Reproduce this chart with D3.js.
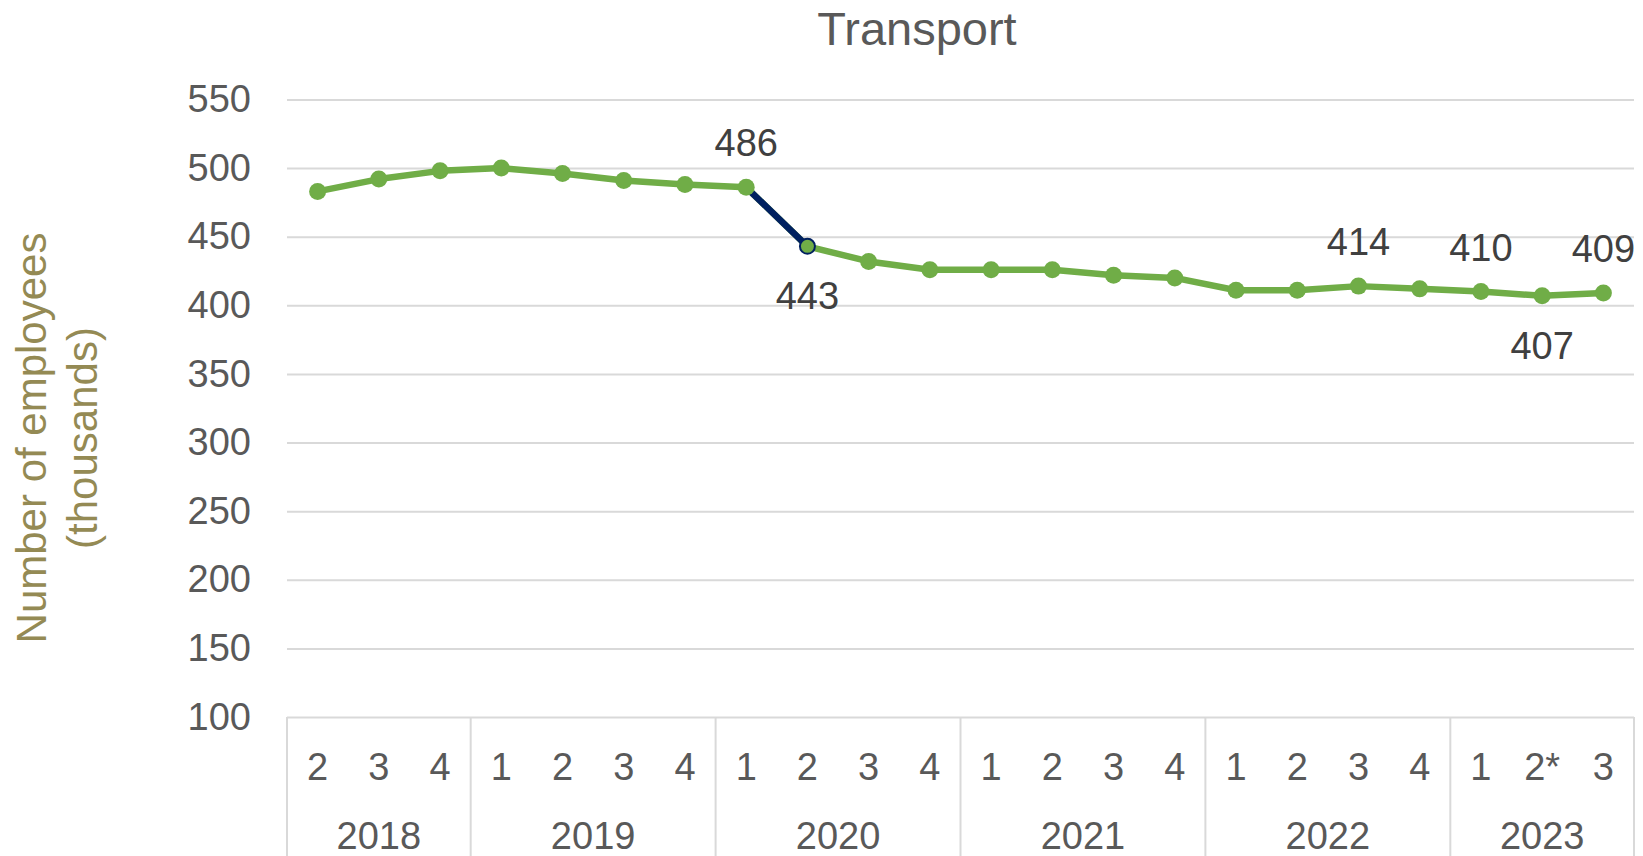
<html>
<head>
<meta charset="utf-8">
<title>Transport</title>
<script src="https://cdn.jsdelivr.net/npm/d3@7/dist/d3.min.js"></script>
<style>
  body { margin: 0; background: #fff; }
  text { font-family: "Liberation Sans", Arial, sans-serif; }
</style>
</head>
<body>
<script>
// data
var years    = ["2018", "2019", "2020", "2021", "2022", "2023"];
var quarters = [["2","3","4"], ["1","2","3","4"], ["1","2","3","4"], ["1","2","3","4"], ["1","2","3","4"], ["1","2*","3"]];
var employees = [483, 492, 498, 500, 496, 491, 488, 486, 443, 432, 426, 426, 426, 422, 420, 411, 411, 414, 412, 410, 407, 409];
var labelled   = ["2020 1", "2020 2", "2022 3", "2023 1", "2023 2*", "2023 3"];
var labelSide  = ["above", "below", "above", "above", "below", "above"];
var highlight  = ["2020 1", "2020 2"]; // segment drawn in navy
var yTicks = [100, 150, 200, 250, 300, 350, 400, 450, 500, 550];

var width = 1643, height = 856;
var margin = {top: 99.5, right: 9, bottom: 139, left: 287};

var cats = [];
years.forEach(function(y, i) {
  quarters[i].forEach(function(q) { cats.push({year: y, q: q, key: y + " " + q}); });
});
var rows = cats.map(function(c, i) { return {key: c.key, year: c.year, q: c.q, v: employees[i]}; });

var svg = d3.select("body").append("svg")
  .attr("width", width)
  .attr("height", height);

var x = d3.scaleBand().domain(cats.map(function(c) { return c.key; }))
  .range([margin.left, width - margin.right]);
var y = d3.scaleLinear().domain([100, 550]).range([height - margin.bottom, margin.top]);

// title
svg.append("text").text("Transport")
  .attr("x", 917).attr("y", 45)
  .attr("text-anchor", "middle")
  .style("font-size", "47px").style("fill", "#595959");

// y axis title
var yt = svg.append("text")
  .attr("transform", "translate(0,438) rotate(-90)")
  .attr("text-anchor", "middle")
  .style("font-size", "42px").style("fill", "#948A54");
yt.append("tspan").attr("x", 0).attr("y", 46).text("Number of employees");
yt.append("tspan").attr("x", 0).attr("y", 97).text("(thousands)");

// gridlines + y labels
var yAxis = d3.axisLeft(y).tickValues(yTicks)
  .tickSize(-(width - margin.left - margin.right))
  .tickPadding(36);
var gy = svg.append("g").attr("transform", "translate(" + margin.left + ",0)").call(yAxis);
gy.select(".domain").remove();
gy.selectAll("line").attr("stroke", "#D9D9D9").attr("stroke-width", 2);
gy.selectAll("text").style("font-size", "38px").style("fill", "#595959")
  .style("font-family", "'Liberation Sans', Arial, sans-serif");

// x axis: quarter labels, year labels, separators
var x0 = y(100);
var gx = svg.append("g");
gx.selectAll(".q").data(cats).enter().append("text")
  .attr("x", function(d) { return x(d.key) + x.bandwidth() / 2; })
  .attr("y", 780)
  .attr("text-anchor", "middle")
  .style("font-size", "38px").style("fill", "#595959")
  .text(function(d) { return d.q; });

var groups = years.map(function(yr, i) {
  var ks = quarters[i].map(function(q) { return yr + " " + q; });
  return {year: yr, x1: x(ks[0]), x2: x(ks[ks.length - 1]) + x.bandwidth()};
});
gx.selectAll(".yr").data(groups).enter().append("text")
  .attr("x", function(d) { return (d.x1 + d.x2) / 2; })
  .attr("y", 849)
  .attr("text-anchor", "middle")
  .style("font-size", "38px").style("fill", "#595959")
  .text(function(d) { return d.year; });

var seps = [groups[0].x1].concat(groups.map(function(g) { return g.x2; }));
gx.selectAll(".sep").data(seps).enter().append("line")
  .attr("x1", function(d) { return d; }).attr("x2", function(d) { return d; })
  .attr("y1", x0).attr("y2", height)
  .attr("stroke", "#D9D9D9").attr("stroke-width", 2);

// line
var cx = function(d) { return x(d.key) + x.bandwidth() / 2; };
var line = d3.line().x(cx).y(function(d) { return y(d.v); });
svg.append("path").datum(rows)
  .attr("d", line)
  .attr("fill", "none").attr("stroke", "#70AD47").attr("stroke-width", 6.5)
  .attr("stroke-linejoin", "round");
svg.append("path").datum(rows.filter(function(d) { return highlight.indexOf(d.key) >= 0; }))
  .attr("d", line)
  .attr("fill", "none").attr("stroke", "#002060").attr("stroke-width", 6.5);

svg.selectAll(".pt").data(rows).enter().append("circle")
  .attr("cx", cx).attr("cy", function(d) { return y(d.v); })
  .attr("r", function(d) { return d.key === highlight[1] ? 7.5 : 8.5; })
  .attr("fill", "#70AD47")
  .attr("stroke", function(d) { return d.key === highlight[1] ? "#002060" : "none"; })
  .attr("stroke-width", 2);

// data labels
svg.selectAll(".lbl").data(rows.filter(function(d) { return labelled.indexOf(d.key) >= 0; })).enter()
  .append("text")
  .attr("x", cx)
  .attr("y", function(d) {
    var side = labelSide[labelled.indexOf(d.key)];
    return y(d.v) + (side === "above" ? -31 : 63);
  })
  .attr("text-anchor", "middle")
  .style("font-size", "38px").style("fill", "#404040")
  .text(function(d) { return d.v; });
</script>
</body>
</html>
